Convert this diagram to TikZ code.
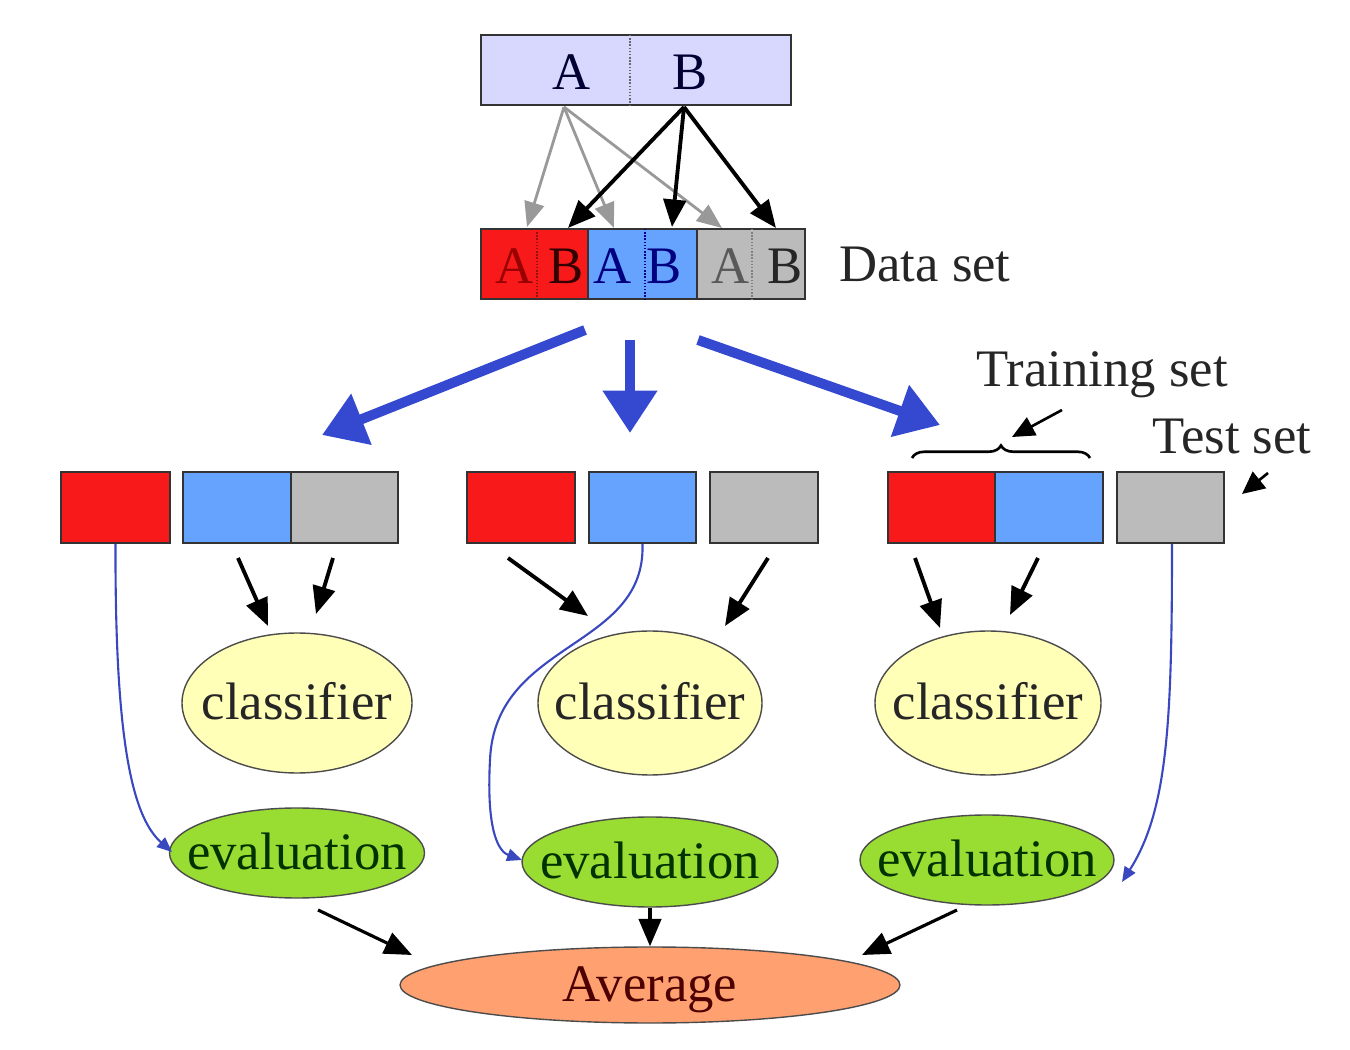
\documentclass[tikz,border=0pt]{standalone}
\usepackage{fontspec}
\setmainfont{Liberation Serif}
\usetikzlibrary{arrows.meta,shapes.geometric,decorations.pathreplacing}
\definecolor{topfill}{HTML}{D8D8FF}
\definecolor{cred}{HTML}{F81A1A}
\definecolor{cblue}{HTML}{66A3FF}
\definecolor{cgray}{HTML}{BBBBBB}
\definecolor{cyel}{HTML}{FFFFB8}
\definecolor{cgreen}{HTML}{99DD33}
\definecolor{corange}{HTML}{FFA070}
\definecolor{bigblue}{HTML}{3548D0}
\definecolor{thinblue}{HTML}{3A48C0}
\definecolor{arrgray}{HTML}{999999}
\newcommand{\ztext}[1]{\makebox[0pt]{#1}}
\begin{document}
\begin{tikzpicture}[x=0.02cm,y=-0.02cm,
  txt/.style={font=\fontsize{30}{32}\selectfont, inner sep=0pt},
  part/.style={draw=black!80, line width=1pt, inner sep=0pt, minimum height=71*0.02cm},
  ell/.style={ellipse, draw=black!70, line width=0.8pt, inner sep=0pt, text height=0.75cm, text depth=0.09cm, font=\fontsize{30}{32}\selectfont},
  blk/.style={-{Triangle[length=0.55cm,width=0.45cm]}, line width=2.2pt, black},
  gry/.style={-{Triangle[length=0.5cm,width=0.4cm]}, line width=1.6pt, arrgray},
  bigarr/.style={-{Triangle[length=0.85cm,width=1.05cm]}, line width=0.2cm, bigblue},
  thin/.style={-{Triangle[length=0.3cm,width=0.25cm]}, line width=1.2pt, thinblue},
  divider/.style={densely dotted, line width=0.8pt}
]
\useasboundingbox (0,0) rectangle (1350,1050);
% top box
\node[part, fill=topfill, minimum width=310*0.02cm, minimum height=70*0.02cm] (top) at (636,70) {};
\draw[divider, black!60] (630,35) -- (630,105);
\node[txt, text=black!80!blue] (tA) at (572,72) {A};
\node[txt, text=black!80!blue] (tB) at (690,72) {B};
\coordinate (sA) at (564,107);
\coordinate (sB) at (684,107);
% data set
\node[part, fill=cred, minimum width=107*0.02cm, minimum height=70*0.02cm] (d1) at (534.5,264) {};
\node[part, fill=cblue, minimum width=109*0.02cm, minimum height=70*0.02cm] (d2) at (642.5,264) {};
\node[part, fill=cgray, minimum width=108*0.02cm, minimum height=70*0.02cm] (d3) at (751,264) {};
\draw[divider, cred!60!black] (537,229) -- (537,299);
\draw[divider, blue!60!black] (645,229) -- (645,299);
\draw[divider, black!50] (752,229) -- (752,299);
\node[txt, text=red!60!black] (d1A) at (515,266) {A};
\node[txt, text=black!80!red] (d1B) at (566,266) {B};
\node[txt, text=blue!50!black] (d2A) at (613,266) {A};
\node[txt, text=blue!50!black] (d2B) at (664,266) {B};
\node[txt, text=black!65] (d3A) at (731,266) {A};
\node[txt, text=black!85] (d3B) at (785,266) {B};
\node[txt, text=black!85] (dslabel) at (925,265) {Data set};
\coordinate (ga1) at (527,227);
\coordinate (ga2) at (614,228);
\coordinate (ga3) at (722,228);
\coordinate (gb1) at (568,228);
\coordinate (gb2) at (672,227);
\coordinate (gb3) at (776,228);
\draw[gry] (sA) -- (ga1);
\draw[gry] (sA) -- (ga2);
\draw[gry] (sA) -- (ga3);
\draw[blk] (sB) -- (gb1);
\draw[blk] (sB) -- (gb2);
\draw[blk] (sB) -- (gb3);
% big blue arrows
\coordinate (bs1) at (585,330);
\coordinate (be1) at (322,435);
\coordinate (bs2) at (630,340);
\coordinate (be2) at (630,433);
\coordinate (bs3) at (698,340);
\coordinate (be3) at (940,425);
\draw[bigarr] (bs1) -- (be1);
\draw[bigarr] (bs2) -- (be2);
\draw[bigarr] (bs3) -- (be3);
% row 3
\node[part, fill=cred, minimum width=109*0.02cm] (L1) at (115.5,507.5) {};
\node[part, fill=cblue, minimum width=108*0.02cm] (L2) at (237,507.5) {};
\node[part, fill=cgray, minimum width=107*0.02cm] (L3) at (344.5,507.5) {};
\node[part, fill=cred, minimum width=108*0.02cm] (M1) at (521,507.5) {};
\node[part, fill=cblue, minimum width=107*0.02cm] (M2) at (642.5,507.5) {};
\node[part, fill=cgray, minimum width=108*0.02cm] (M3) at (764,507.5) {};
\node[part, fill=cred, minimum width=107*0.02cm] (R1) at (941.5,507.5) {};
\node[part, fill=cblue, minimum width=108*0.02cm] (R2) at (1049,507.5) {};
\node[part, fill=cgray, minimum width=107*0.02cm] (R3) at (1170.5,507.5) {};
% training / test set labels
\node[txt, text=black!85] (trlabel) at (1102,375) {Training set};
\node[txt, text=black!85] (tslabel) at (1232,437) {Test set};
\draw[decorate, decoration={brace, amplitude=0.25cm}, line width=1.5pt] (912,458) -- (1090,458);
\coordinate (trs) at (1062,410);
\coordinate (tre) at (1012,437);
\draw[-{Triangle[length=0.45cm,width=0.4cm]}, line width=1.5pt] (trs) -- (tre);
\coordinate (tss) at (1268,473);
\coordinate (tse) at (1242,494);
\draw[-{Triangle[length=0.45cm,width=0.42cm]}, line width=1.5pt] (tss) -- (tse);
% classifiers
\node[ell, fill=cyel, minimum width=230*0.02cm, minimum height=140*0.02cm, text=black!85] (c1) at (297,703) {\ztext{classifier}};
\node[ell, fill=cyel, minimum width=224*0.02cm, minimum height=144*0.02cm, text=black!85] (c2) at (650,703) {\ztext{classifier}};
\node[ell, fill=cyel, minimum width=226*0.02cm, minimum height=144*0.02cm, text=black!85] (c3) at (988,703) {\ztext{classifier}};
% evaluations
\node[ell, fill=cgreen, minimum width=255*0.02cm, minimum height=90*0.02cm, text=black!80!green] (e1) at (297,853) {\ztext{evaluation}};
\node[ell, fill=cgreen, minimum width=256*0.02cm, minimum height=90*0.02cm, text=black!80!green] (e2) at (650,862) {\ztext{evaluation}};
\node[ell, fill=cgreen, minimum width=254*0.02cm, minimum height=90*0.02cm, text=black!80!green] (e3) at (987,860) {\ztext{evaluation}};
% average
\node[ell, fill=corange, minimum width=500*0.02cm, minimum height=76*0.02cm, text=black!70!red] (avg) at (650,985) {\ztext{Average}};
% training arrows
\coordinate (a1s) at (238,558); \coordinate (a1e) at (268,626);
\coordinate (a2s) at (333,558); \coordinate (a2e) at (316,614);
\coordinate (a3s) at (508,558); \coordinate (a3e) at (588,616);
\coordinate (a4s) at (768,558); \coordinate (a4e) at (725,626);
\coordinate (a5s) at (915,558); \coordinate (a5e) at (940,628);
\coordinate (a6s) at (1038,558); \coordinate (a6e) at (1010,615);
\draw[blk] (a1s) -- (a1e);
\draw[blk] (a2s) -- (a2e);
\draw[blk] (a3s) -- (a3e);
\draw[blk] (a4s) -- (a4e);
\draw[blk] (a5s) -- (a5e);
\draw[blk] (a6s) -- (a6e);
% thin blue test curves
\coordinate (t1e) at (172,852);
\coordinate (t2e) at (522,860);
\coordinate (t3e) at (1122,882);
\draw[thin] (L1.south) .. controls (115,730) and (130,815) .. (t1e);
\draw[thin] (M2.south) .. controls (646,650) and (495,640) .. (490,760) .. controls (486,835) and (500,852) .. (t2e);
\draw[thin] ([xshift=1.5*0.02cm]R3.south) .. controls (1172,720) and (1168,810) .. (t3e);
% to average
\coordinate (v1s) at (318,910); \coordinate (v1e) at (412,955);
\coordinate (v3s) at (957,910); \coordinate (v3e) at (862,955);
\draw[blk, line width=1.8pt] (v1s) -- (v1e);
\draw[blk, line width=1.8pt] (e2.south) -- (avg.north);
\draw[blk, line width=1.8pt] (v3s) -- (v3e);
\end{tikzpicture}
\end{document}
